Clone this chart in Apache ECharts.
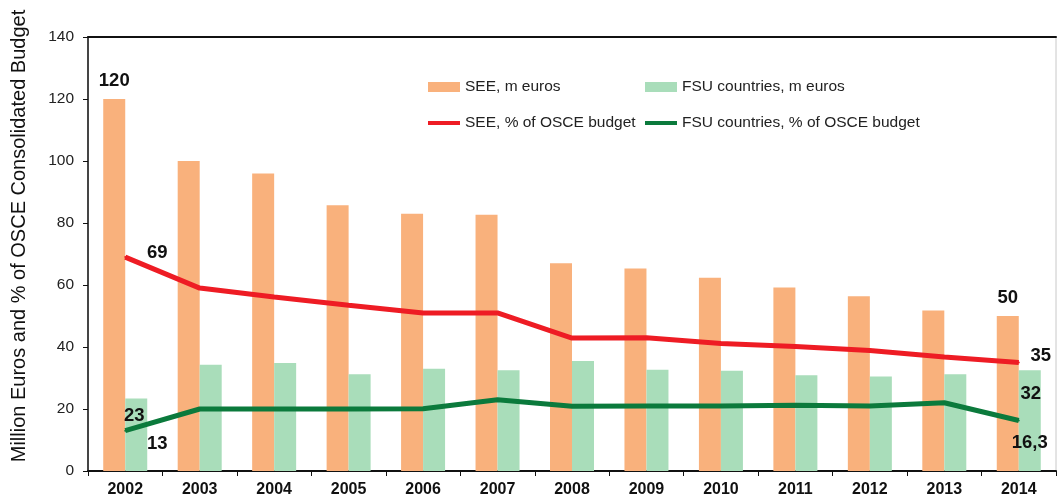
<!DOCTYPE html>
<html>
<head>
<meta charset="utf-8">
<script src="https://cdn.jsdelivr.net/npm/echarts@6/dist/echarts.min.js"></script>
<style>html,body{margin:0;padding:0;background:#fff}#c{width:1058px;height:501px}</style>
</head>
<body>
<div id="c"></div>
<script>
const years = ['2002','2003','2004','2005','2006','2007','2008','2009','2010','2011','2012','2013','2014'];
const seeEuros = [120, 100, 96, 85.7, 83, 82.7, 67, 65.3, 62.3, 59.2, 56.4, 51.8, 50];
const fsuEuros = [23.4, 34.3, 34.8, 31.2, 33, 32.5, 35.5, 32.7, 32.3, 30.9, 30.5, 31.2, 32.5];
const seePct = [69, 59, 56.1, 53.5, 51, 51, 42.9, 43, 41.1, 40.2, 38.9, 36.8, 35];
const fsuPct = [13, 20, 20, 20, 20.1, 23, 20.9, 21, 21, 21.2, 21, 22, 16.3];
const yTicks = [0, 20, 40, 60, 80, 100, 120, 140];

const names = ['SEE, m euros', 'FSU countries, m euros', 'SEE, % of OSCE budget', 'FSU countries, % of OSCE budget'];
const colors = ['#F9B17C', '#A9DDBA', '#EE1C24', '#0B7A3C'];

const FONT = 'Liberation Sans, Arial';
const lblBase = {show: true, color: '#111', fontFamily: FONT, fontWeight: 'bold', fontSize: 18.5};

function withLabels(arr, labels) {
  return arr.map((v, i) => labels[i] ? {value: v, label: Object.assign({}, lblBase, labels[i])} : v);
}

const seeBarData = withLabels(seeEuros, {
  0: {position: 'top', distance: 9, formatter: '120'},
  12: {position: 'top', distance: 9, formatter: '50'}
});
const fsuBarData = withLabels(fsuEuros, {
  0: {position: 'insideTop', offset: [-2, 3], formatter: '23'},
  12: {position: 'insideTop', offset: [1, 9], formatter: '32'}
});
const seeLineData = withLabels(seePct, {
  0: {position: 'inside', offset: [32, -4], formatter: '69'},
  12: {position: 'inside', offset: [22, -7], formatter: '35'}
});
const fsuLineData = withLabels(fsuPct, {
  0: {position: 'inside', offset: [32, 13], formatter: '13'},
  12: {position: 'inside', offset: [11, 22], formatter: '16,3'}
});

const chart = echarts.init(document.getElementById('c'));
const legendText = {fontFamily: FONT, fontSize: 15.5, color: '#222'};
function leg(name, left, top, h) {
  return {data: [name], left: left, top: top, itemWidth: 32, itemHeight: h, itemGap: 0,
          icon: 'rect', textStyle: legendText, padding: 0, selectedMode: false};
}
chart.setOption({
  animation: false,
  backgroundColor: '#fff',
  color: colors,
  grid: {left: 88, right: 2, top: 37, bottom: 30, show: true, borderColor: '#c8c8c8', borderWidth: 1},
  legend: [
    leg(names[0], 428, 79, 10),
    leg(names[1], 645, 79, 10),
    leg(names[2], 428, 115, 4),
    leg(names[3], 645, 115, 4)
  ],
  xAxis: [{
    type: 'category', data: years,
    axisLine: {lineStyle: {color: '#111', width: 2}},
    axisTick: {show: true, length: 5, lineStyle: {color: '#111'}},
    axisLabel: {color: '#111', fontWeight: 'bold', fontSize: 16, fontFamily: FONT, margin: 11}
  }, {
    type: 'category', data: years, position: 'top',
    axisLine: {show: true, lineStyle: {color: '#111', width: 2}},
    axisTick: {show: false}, axisLabel: {show: false}
  }],
  yAxis: {
    type: 'value', min: yTicks[0], max: yTicks[yTicks.length - 1], interval: 20,
    name: 'Million Euros and % of OSCE Consolidated Budget',
    nameLocation: 'middle', nameGap: 59,
    nameTextStyle: {fontFamily: FONT, fontSize: 20, color: '#111', padding: [0, 0, 0, 36]},
    axisLine: {show: true, lineStyle: {color: '#111', width: 1.5}},
    axisTick: {show: true, length: 5, lineStyle: {color: '#111'}},
    axisLabel: {color: '#222', fontSize: 15.5, fontFamily: FONT, margin: 14},
    splitLine: {show: false}
  },
  series: [
    {name: names[0], type: 'bar', data: seeBarData, barWidth: 22, barGap: '0%', itemStyle: {color: colors[0]}},
    {name: names[1], type: 'bar', data: fsuBarData, barWidth: 22, barGap: '0%', itemStyle: {color: colors[1]}},
    {name: names[2], type: 'line', data: seeLineData, symbol: 'circle', symbolSize: 2,
     lineStyle: {width: 5, color: colors[2]}, itemStyle: {color: colors[2]}, z: 5},
    {name: names[3], type: 'line', data: fsuLineData, symbol: 'circle', symbolSize: 2,
     lineStyle: {width: 5, color: colors[3]}, itemStyle: {color: colors[3]}, z: 5}
  ]
});
</script>
</body>
</html>
